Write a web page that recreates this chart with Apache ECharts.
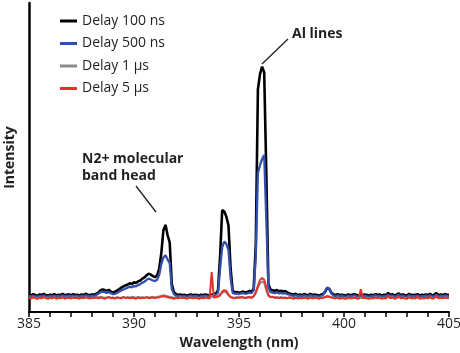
<!DOCTYPE html>
<html>
<head>
<meta charset="utf-8">
<script src="https://cdn.jsdelivr.net/npm/echarts@6/dist/echarts.min.js"></script>
<style>
  html, body { margin: 0; padding: 0; background: #fff; }
  #chart { width: 460px; height: 353px; }
</style>
</head>
<body>
<div id="chart"></div>
<script>
// wavelength grid, nm
const wavelength = [
  385.0,385.1,385.2,385.3,385.4,385.5,385.6,385.7,385.8,385.9,
  386.0,386.1,386.2,386.3,386.4,386.5,386.6,386.7,386.8,386.9,
  387.0,387.1,387.2,387.3,387.4,387.5,387.6,387.7,387.8,387.9,
  388.0,388.1,388.2,388.3,388.4,388.5,388.6,388.7,388.8,388.9,
  389.0,389.1,389.2,389.3,389.4,389.5,389.6,389.7,389.8,389.9,
  390.0,390.1,390.2,390.3,390.4,390.5,390.6,390.7,390.8,390.9,
  391.0,391.1,391.2,391.3,391.4,391.5,391.6,391.7,391.8,391.9,
  392.0,392.1,392.2,392.3,392.4,392.5,392.6,392.7,392.8,392.9,
  393.0,393.1,393.2,393.3,393.4,393.5,393.6,393.7,393.8,393.9,
  394.0,394.1,394.2,394.3,394.4,394.5,394.6,394.7,394.8,394.9,
  395.0,395.1,395.2,395.3,395.4,395.5,395.6,395.7,395.8,395.9,
  396.0,396.1,396.2,396.3,396.4,396.5,396.6,396.7,396.8,396.9,
  397.0,397.1,397.2,397.3,397.4,397.5,397.6,397.7,397.8,397.9,
  398.0,398.1,398.2,398.3,398.4,398.5,398.6,398.7,398.8,398.9,
  399.0,399.1,399.2,399.3,399.4,399.5,399.6,399.7,399.8,399.9,
  400.0,400.1,400.2,400.3,400.4,400.5,400.6,400.7,400.8,400.9,
  401.0,401.1,401.2,401.3,401.4,401.5,401.6,401.7,401.8,401.9,
  402.0,402.1,402.2,402.3,402.4,402.5,402.6,402.7,402.8,402.9,
  403.0,403.1,403.2,403.3,403.4,403.5,403.6,403.7,403.8,403.9,
  404.0,404.1,404.2,404.3,404.4,404.5,404.6,404.7,404.8,404.9,
  405.0
];

const delay100ns = [
  5.6,5.3,5.8,5.5,5.2,5.7,5.4,5.9,5.5,5.3,
  5.6,5.4,5.8,5.3,5.6,5.5,5.9,5.4,5.6,5.7,
  5.4,5.8,5.5,5.6,5.3,5.7,5.5,5.9,5.6,5.4,
  5.7,5.6,5.9,6.3,7.0,7.3,7.1,6.8,7.2,6.6,
  6.3,6.6,7.0,7.4,7.9,8.3,8.6,8.9,9.3,9.1,
  9.6,9.4,9.9,10.2,10.8,11.2,11.9,12.4,12.1,11.6,
  11.3,11.8,14.0,19.0,26.5,28.2,24.8,22.5,9.0,6.4,
  5.8,5.5,5.7,5.4,5.6,5.3,5.5,5.7,5.4,5.6,
  5.5,5.3,5.6,5.4,5.7,5.5,5.3,5.6,5.8,6.0,
  7.0,18.0,33.0,32.5,30.8,28.0,14.0,7.0,6.3,6.5,
  6.2,6.4,6.6,6.3,6.5,6.8,6.6,7.5,22.0,72.0,
  77.0,79.4,77.5,45.0,9.0,7.2,7.0,6.8,7.1,6.7,
  6.9,6.6,6.8,6.3,6.0,5.8,5.6,5.9,5.5,5.7,
  5.4,5.8,5.6,5.5,5.9,5.4,5.7,5.5,5.3,5.6,
  5.8,6.5,7.8,7.5,6.2,5.7,5.5,5.8,5.4,5.6,
  5.5,5.3,5.7,5.4,5.6,5.8,5.5,5.3,5.6,5.4,
  5.7,5.5,5.3,5.6,5.4,5.8,5.5,5.7,5.3,5.6,
  5.4,6.2,5.5,5.8,5.3,5.6,6.0,5.4,5.7,5.5,
  5.3,5.9,5.4,5.6,5.5,5.8,5.3,5.6,5.4,5.7,
  5.5,5.9,5.3,5.6,6.1,5.4,5.7,5.5,5.8,5.6,
  5.6
];

const delay500ns = [
  5.2,5.0,5.3,5.1,4.9,5.2,5.0,5.4,5.1,4.9,
  5.2,5.0,5.3,5.0,5.2,5.1,5.4,5.0,5.2,5.3,
  5.0,5.3,5.1,5.2,4.9,5.3,5.1,5.4,5.2,5.0,
  5.3,5.2,5.5,5.9,6.4,6.6,6.5,6.2,6.5,6.1,
  5.8,5.9,6.2,6.6,7.0,7.3,7.6,7.9,8.2,8.0,
  8.4,8.3,8.7,9.0,9.5,9.8,10.4,10.8,10.5,10.2,
  10.0,10.4,12.0,15.5,17.6,18.4,17.0,15.8,7.5,5.8,
  5.3,5.1,5.2,5.0,5.2,4.9,5.1,5.3,5.0,5.2,
  5.1,4.9,5.2,5.0,5.3,5.1,4.9,5.2,5.4,5.6,
  6.3,14.0,21.0,22.8,22.0,20.0,11.0,6.2,5.9,6.0,
  5.8,6.0,6.1,5.9,6.0,6.3,6.1,7.0,18.0,45.0,
  47.5,49.5,50.8,30.0,8.0,6.4,6.3,6.1,6.4,6.0,
  6.2,5.9,6.1,5.8,5.6,5.4,5.2,5.5,5.1,5.3,
  5.0,5.4,5.2,5.1,5.5,5.0,5.3,5.1,4.9,5.2,
  5.5,6.8,7.9,7.6,6.0,5.3,5.1,5.4,5.0,5.2,
  5.1,4.9,5.3,5.0,5.2,5.4,5.1,4.9,5.2,5.0,
  5.3,5.1,4.9,5.2,5.0,5.4,5.1,5.3,4.9,5.2,
  5.0,5.7,5.1,5.4,4.9,5.2,5.6,5.0,5.3,5.1,
  4.9,5.5,5.0,5.2,5.1,5.4,4.9,5.2,5.0,5.3,
  5.1,5.5,4.9,5.2,5.6,5.0,5.3,5.1,5.4,5.2,
  5.2
];

const delay1us = [
  4.7,4.5,4.8,4.6,4.4,4.7,4.5,4.9,4.6,4.4,
  4.7,4.5,4.8,4.4,4.6,4.5,4.8,4.5,4.7,4.6,
  4.5,4.8,4.6,4.7,4.4,4.6,4.5,4.8,4.6,4.5,
  4.7,4.6,4.8,4.7,4.9,4.8,4.6,4.7,4.9,4.6,
  4.7,4.5,4.8,4.6,4.7,4.9,4.6,4.8,4.7,4.9,
  4.8,4.6,4.9,4.7,4.8,4.6,4.9,4.7,4.8,4.9,
  4.7,4.9,5.0,5.2,5.4,5.3,5.1,4.9,4.8,4.6,
  4.7,4.5,4.8,4.6,4.7,4.5,4.6,4.8,4.5,4.7,
  4.6,4.4,4.7,4.5,4.8,4.6,4.5,5.2,4.8,4.9,
  5.1,5.8,6.3,6.6,6.3,5.4,4.9,4.7,4.6,4.8,
  4.7,4.9,4.8,4.6,4.8,4.9,4.7,5.0,6.0,7.8,
  9.3,9.8,9.4,7.0,5.2,4.8,4.9,4.7,4.8,4.6,
  4.8,4.6,4.7,4.5,4.8,4.6,4.5,4.7,4.4,4.6,
  4.5,4.7,4.6,4.4,4.8,4.5,4.6,4.7,4.4,4.6,
  4.7,4.9,5.2,5.0,4.8,4.6,4.5,4.7,4.4,4.6,
  4.5,4.4,4.7,4.5,4.6,4.8,4.5,4.4,4.6,4.5,
  4.7,4.5,4.4,4.6,4.5,4.8,4.5,4.7,4.4,4.6,
  4.5,5.0,4.6,4.8,4.4,4.6,4.9,4.5,4.7,4.5,
  4.4,4.8,4.5,4.6,4.5,4.8,4.4,4.6,4.5,4.7,
  4.5,4.9,4.4,4.6,5.0,4.5,4.7,4.5,4.8,4.6,
  4.6
];

const delay5us = [
  4.6,4.3,4.8,4.5,4.2,4.7,4.4,4.9,4.5,4.3,
  4.6,4.4,4.8,4.3,4.6,4.4,4.8,4.3,4.6,4.5,
  4.4,4.7,4.5,4.6,4.3,4.7,4.4,4.8,4.5,4.4,
  4.6,4.5,4.8,4.4,4.7,4.5,4.3,4.6,4.8,4.4,
  4.6,4.3,4.7,4.5,4.4,4.8,4.5,4.7,4.4,4.6,
  4.5,4.3,4.7,4.4,4.6,4.5,4.8,4.4,4.6,4.7,
  4.5,4.7,4.8,5.0,5.1,5.0,4.8,4.6,4.5,4.3,
  4.6,4.4,4.7,4.5,4.6,4.3,4.5,4.7,4.4,4.6,
  4.5,4.3,4.6,4.4,4.7,4.5,4.4,12.9,4.7,4.8,
  5.0,5.3,6.6,7.1,6.8,5.6,4.8,4.6,4.4,4.7,
  4.6,4.8,4.7,4.5,4.7,4.8,4.6,5.2,6.5,8.5,
  10.3,11.0,10.4,8.0,5.5,4.8,4.9,4.6,4.7,4.5,
  4.7,4.5,4.6,4.4,4.7,4.5,4.3,4.6,4.4,4.5,
  4.4,4.6,4.5,4.3,4.7,4.4,4.5,4.6,4.3,4.5,
  4.6,4.8,5.0,4.9,4.7,4.5,4.4,4.6,4.3,4.5,
  4.4,4.3,4.6,4.4,4.5,4.7,4.4,4.3,7.4,4.5,
  4.6,4.4,4.3,4.5,4.4,4.7,4.4,4.6,4.3,4.5,
  4.4,5.2,4.5,4.7,4.3,4.5,5.0,4.4,4.6,4.4,
  4.3,4.8,4.4,4.5,4.4,4.9,4.3,4.5,4.4,4.6,
  4.4,4.9,4.3,4.5,5.1,4.4,4.6,4.4,4.7,4.5,
  4.5
];

const seriesNames = ['Delay 100 ns', 'Delay 500 ns', 'Delay 1 \u00b5s', 'Delay 5 \u00b5s'];
const seriesValues = [delay100ns, delay500ns, delay1us, delay5us];
const seriesColors = ['#000000', '#3150ad', '#8a8a8a', '#e8302a'];
const seriesWidths = [2.6, 2.3, 2, 2];

const font = '"Open Sans", "Noto Sans", sans-serif';

const chart = echarts.init(document.getElementById('chart'));

chart.setOption({
  animation: false,
  textStyle: { fontFamily: font },
  grid: { left: 29, right: 11, top: 3, bottom: 41, outerBoundsMode: 'none', containLabel: false },
  legend: {
    orient: 'vertical',
    left: 55,
    top: 8,
    icon: 'rect',
    itemWidth: 17,
    itemHeight: 3,
    itemGap: 6.5,
    textStyle: { fontSize: 14, color: '#231f20', lineHeight: 16, fontFamily: font },
    data: seriesNames
  },
  xAxis: {
    type: 'value',
    min: 385,
    max: 405,
    interval: 1,
    name: 'Wavelength (nm)',
    nameLocation: 'middle',
    nameGap: 21,
    nameTextStyle: { fontSize: 14, fontWeight: 'bold', color: '#231f20' },
    axisLine: { lineStyle: { color: '#000', width: 2 } },
    axisTick: { show: true, length: 5, lineStyle: { color: '#000', width: 1.5 } },
    axisLabel: {
      margin: 5,
      fontSize: 14,
      color: '#231f20',
      formatter: v => (v % 5 === 0 ? String(v) : '')
    },
    splitLine: { show: false }
  },
  yAxis: {
    type: 'value',
    min: 0,
    max: 100,
    name: 'Intensity',
    nameLocation: 'middle',
    nameGap: 12,
    nameTextStyle: { fontSize: 14, fontWeight: 'bold', color: '#231f20' },
    axisLine: { show: true, lineStyle: { color: '#000', width: 2.5 } },
    axisTick: { show: false },
    axisLabel: { show: false },
    splitLine: { show: false }
  },
  series: seriesNames.map((name, k) => ({
    name: name,
    type: 'line',
    showSymbol: false,
    color: seriesColors[k],
    lineStyle: { color: seriesColors[k], width: seriesWidths[k] },
    z: 2 + k,
    data: wavelength.map((w, i) => [w, seriesValues[k][i]])
  })),
  graphic: [
    { type: 'line', shape: { x1: 262, y1: 64, x2: 288, y2: 39 }, style: { stroke: '#231f20', lineWidth: 1.3 } },
    { type: 'text', left: 292, top: 27, style: { text: 'Al lines', font: 'bold 14px ' + font, fill: '#231f20' } },
    { type: 'line', shape: { x1: 136, y1: 186, x2: 156, y2: 212 }, style: { stroke: '#231f20', lineWidth: 1.3 } },
    { type: 'text', left: 82, top: 151, style: { text: 'N2+ molecular\nband head', font: 'bold 14px ' + font, lineHeight: 17, fill: '#231f20' } }
  ]
});
</script>
</body>
</html>
